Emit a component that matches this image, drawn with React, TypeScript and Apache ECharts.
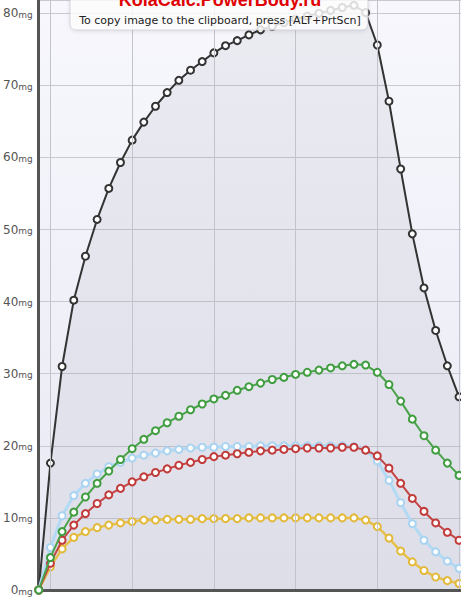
import React, { useEffect, useRef } from "react";
import * as echarts from "echarts";

const idx: number[] = Array.from({ length: 37 }, (_, i) => i);
const blackVals = [0, 17.6, 31.0, 40.2, 46.3, 51.4, 55.7, 59.3, 62.4, 64.9, 67.1, 69.0, 70.7, 72.1, 73.3, 74.5, 75.5, 76.2, 77.0, 77.7, 78.2, 78.7, 79.2, 79.6, 80.0, 80.4, 80.8, 81.1, 80.1, 75.6, 67.8, 58.4, 49.4, 41.9, 36.0, 31.1, 26.8];
const greenVals = [0, 4.5, 8.1, 10.8, 12.9, 14.8, 16.5, 18.1, 19.6, 20.9, 22.1, 23.2, 24.1, 25.0, 25.8, 26.5, 27.0, 27.7, 28.2, 28.7, 29.2, 29.5, 29.9, 30.2, 30.5, 30.8, 31.1, 31.3, 31.2, 30.2, 28.5, 26.2, 23.7, 21.4, 19.4, 17.6, 15.9];
const redVals = [0, 3.7, 6.9, 9.0, 10.6, 12.0, 13.2, 14.1, 15.0, 15.7, 16.3, 16.8, 17.3, 17.7, 18.1, 18.5, 18.7, 18.9, 19.1, 19.3, 19.4, 19.5, 19.6, 19.7, 19.7, 19.7, 19.8, 19.8, 19.4, 18.6, 16.9, 14.8, 12.7, 10.9, 9.3, 8.0, 6.9];
const blueVals = [0, 5.9, 10.3, 13.1, 14.8, 16.1, 17.1, 17.7, 18.3, 18.7, 19.0, 19.3, 19.5, 19.7, 19.8, 19.8, 19.9, 19.9, 19.9, 20.0, 20.0, 20.0, 20.0, 20.0, 20.0, 20.0, 20.0, 19.9, 19.4, 17.9, 15.2, 12.1, 9.2, 6.9, 5.3, 4.0, 3.0];
const yellowVals = [0, 3.2, 5.7, 7.3, 8.1, 8.65, 9.0, 9.3, 9.5, 9.7, 9.7, 9.8, 9.8, 9.8, 9.9, 9.9, 9.9, 9.9, 10.0, 10.0, 10.0, 10.0, 10.0, 10.0, 10.0, 10.0, 10.0, 10.0, 9.7, 8.8, 7.2, 5.4, 3.9, 2.7, 1.8, 1.3, 0.9];
const verticalGridAt = [1, 8, 15, 22, 29, 36];
const yTickValues = [0, 10, 20, 30, 40, 50, 60, 70, 80];
const unit = "mg";
const titleText = "KolaCalc.PowerBody.ru";
const hintText = "To copy image to the clipboard, press [ALT+PrtScn]";

const pairs = (vals: number[]) => vals.map((v, i) => [idx[i], v]);

export default function App() {
  const ref = useRef<HTMLDivElement>(null);
  useEffect(() => {
    if (!ref.current) return;
    const chart = echarts.init(ref.current, null, { renderer: "svg" });
    const mk = (name: string, vals: number[], color: string, lineColor: string, width: number, z: number, extra: any = {}) => ({
      name,
      type: "line",
      data: pairs(vals),
      z,
      symbol: "circle",
      symbolSize: 7,
      showSymbol: true,
      lineStyle: { color: lineColor, width },
      itemStyle: { color: "#ffffff", borderColor: color, borderWidth: 2 },
      emphasis: { disabled: true },
      ...extra,
    });
    chart.setOption({
      animation: false,
      backgroundColor: "#ffffff",
      grid: {
        left: 37,
        right: 0,
        top: 0,
        bottom: 8,
        show: true,
        borderWidth: 0,
        backgroundColor: new echarts.graphic.LinearGradient(0, 0, 0, 1, [
          { offset: 0, color: "#f7f7fd" },
          { offset: 1, color: "#e9e9f4" },
        ]),
      },
      xAxis: {
        type: "value",
        min: 0,
        max: 36.17,
        axisLine: { show: false },
        axisTick: { show: false },
        axisLabel: { show: false },
        splitLine: { show: false },
      },
      yAxis: {
        type: "value",
        min: 0,
        max: 81.84,
        interval: 10,
        axisLine: { show: true, lineStyle: { color: "#555555", width: 3 } },
        axisTick: { show: false },
        splitLine: {
          show: true,
          lineStyle: { color: "#c9c9d2", width: 1 },
        },
        axisLabel: {
          showMaxLabel: false,
          margin: 6,
          formatter: (v: number) =>
            yTickValues.indexOf(v) >= 0 ? `{n|${v}}{u|${unit}}` : "",
          rich: {
            n: { fontFamily: "DejaVu Sans", fontSize: 12, color: "#555555" },
            u: { fontFamily: "DejaVu Sans", fontSize: 9, color: "#555555", padding: [3, 0, 0, 0] },
          },
        },
      },
      series: [
        {
          name: "grid",
          type: "line",
          data: [],
          z: 1,
          markLine: {
            silent: true,
            symbol: "none",
            label: { show: false },
            lineStyle: { color: "#c3c3cc", width: 1, type: "solid" },
            data: verticalGridAt.map((v) => ({ xAxis: v })),
          },
        },
        mk("total", blackVals, "#333333", "#333333", 2, 3, {
          areaStyle: { color: "rgba(40,40,60,0.08)" },
        }),
        mk("yellow", yellowVals, "#e3b93a", "#e6c04a", 2.5, 4),
        mk("blue", blueVals, "#a9d3f0", "#b3daf4", 3, 5),
        mk("red", redVals, "#c23b3b", "#c44545", 2, 6),
        mk("green", greenVals, "#3f9d3f", "#4aa34a", 2, 7),
        {
          name: "xline",
          type: "line",
          data: [],
          z: 8,
          markLine: {
            silent: true,
            symbol: "none",
            label: { show: false },
            lineStyle: { color: "#555555", width: 3, type: "solid" },
            data: [{ yAxis: 0 }],
          },
        },
      ],
      graphic: [
        {
          type: "rect",
          z: 100,
          shape: { x: 70, y: -12, width: 298, height: 42, r: 6 },
          style: {
            fill: "rgba(255,255,255,0.82)",
            stroke: "rgba(190,190,200,0.6)",
            lineWidth: 1,
            shadowBlur: 4,
            shadowColor: "rgba(0,0,0,0.12)",
            shadowOffsetY: 1,
          },
        },
        {
          type: "text",
          z: 101,
          x: 220,
          y: 9,
          style: {
            text: titleText,
            fill: "#e00000",
            font: "bold 18px 'Liberation Sans'",
            align: "center",
            verticalAlign: "bottom",
          },
        },
        {
          type: "text",
          z: 101,
          x: 220,
          y: 20,
          style: {
            text: hintText,
            fill: "#222222",
            font: "11px 'DejaVu Sans'",
            align: "center",
            verticalAlign: "middle",
          },
        },
      ],
    });
    return () => chart.dispose();
  }, []);
  return (
    <div
      ref={ref}
      style={{ position: "fixed", left: 0, top: 0, width: 461, height: 598 }}
    />
  );
}
